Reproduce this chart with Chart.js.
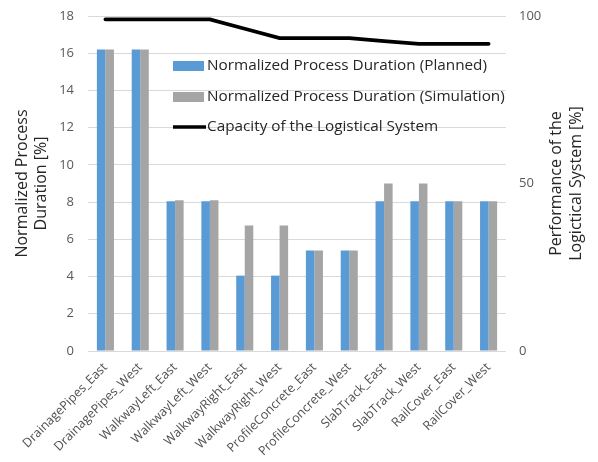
<!DOCTYPE html>
<html><head><meta charset="utf-8">
<script src="https://cdn.jsdelivr.net/npm/chart.js@4"></script>
<style>html,body{margin:0;padding:0;background:#fff}#wrap{width:598px;height:462px}</style>
</head><body><div id="wrap"><canvas id="c" width="598" height="462"></canvas></div>
<script>
const categories = ["DrainagePipes_East","DrainagePipes_West","WalkwayLeft_East","WalkwayLeft_West","WalkwayRight_East","WalkwayRight_West","ProfileConcrete_East","ProfileConcrete_West","SlabTrack_East","SlabTrack_West","RailCover_East","RailCover_West"];
const planned = [16.2,16.2,8.05,8.05,4.05,4.05,5.4,5.4,8.05,8.05,8.05,8.05];
const simulation = [16.2,16.2,8.1,8.1,6.75,6.75,5.4,5.4,9.0,9.0,8.05,8.05];
const capacity = [99,99,99,99,96.2,93.4,93.4,93.4,92.5,91.7,91.7,91.7];
const leftTicks = [0,2,4,6,8,10,12,14,16,18];
const rightTicks = [0,50,100];
const seriesNames = ["Normalized Process Duration (Planned)","Normalized Process Duration (Simulation)","Capacity of the Logistical System"];
const leftTitle = ["Normalized Process","Duration [%]"];
const rightTitle = ["Performance of the","Logictical System [%]"];

const FONT = "'Open Sans', sans-serif";
const overlay = {
  id:'overlay',
  afterDraw(chart){
    const ctx = chart.ctx;
    const area = chart.chartArea;
    ctx.save();
    const lx = 173, ys = [66, 97, 127];
    ctx.font = "15.3px " + FONT;
    ctx.textBaseline = "middle";
    ctx.textAlign = "left";
    chart.data.datasets.forEach((ds,i)=>{
      const y = ys[i];
      if (ds.type === 'line') {
        ctx.strokeStyle = ds.borderColor; ctx.lineWidth = 3.5;
        ctx.beginPath(); ctx.moveTo(lx, y); ctx.lineTo(lx+33, y); ctx.stroke();
      } else {
        ctx.fillStyle = ds.backgroundColor; ctx.fillRect(lx, y-5, 31, 10);
      }
      ctx.fillStyle = "#262626";
      ctx.fillText(ds.label, lx+34, y);
    });
    ctx.font = "16px " + FONT;
    ctx.fillStyle = "#262626";
    ctx.textAlign = "center";
    const cy = (area.top + area.bottom)/2;
    ctx.save();
    ctx.translate(22, cy); ctx.rotate(-Math.PI/2);
    ctx.fillText(leftTitle[0], 0, 0); ctx.fillText(leftTitle[1], 0, 19);
    ctx.restore();
    ctx.save();
    ctx.translate(556, cy); ctx.rotate(-Math.PI/2);
    ctx.fillText(rightTitle[0], 0, 0); ctx.fillText(rightTitle[1], 0, 20);
    ctx.restore();
    ctx.restore();
  }
};

new Chart(document.getElementById('c'), {
  data: {
    labels: categories,
    datasets: [
      {type:'bar', label:seriesNames[0], data:planned, backgroundColor:'#5B9BD5', yAxisID:'y', order:2, barPercentage:1, categoryPercentage:0.49},
      {type:'bar', label:seriesNames[1], data:simulation, backgroundColor:'#A5A5A5', yAxisID:'y', order:2, barPercentage:1, categoryPercentage:0.49},
      {type:'line', label:seriesNames[2], data:capacity, borderColor:'#000000', borderWidth:3.8, pointRadius:0, tension:0, yAxisID:'y1', order:1, borderCapStyle:'round'}
    ]
  },
  options: {
    responsive:false, animation:false, devicePixelRatio:1,
    layout:{padding:{top:16, left:0, right:0, bottom:0}},
    plugins:{legend:{display:false}, tooltip:{enabled:false}},
    scales:{
      x:{
        grid:{display:false, drawTicks:false},
        border:{display:false},
        ticks:{color:'#505050', font:{family:FONT, size:12.5}, maxRotation:45, minRotation:45, padding:9, autoSkip:false},
        afterFit(s){ s.height = 111; s.paddingLeft = 0; s.paddingRight = 0; }
      },
      y:{
        position:'left', min:0, max:18,
        afterBuildTicks(s){ s.ticks = leftTicks.map(v=>({value:v})); },
        grid:{color:'#d9d9d9', lineWidth:1, drawTicks:false},
        border:{display:false},
        ticks:{color:'#595959', font:{family:FONT, size:13}, padding:14},
        afterFit(s){ s.width = 88; s.paddingTop = 0; s.paddingBottom = 0; }
      },
      y1:{
        position:'right', min:0, max:100,
        afterBuildTicks(s){ s.ticks = rightTicks.map(v=>({value:v})); },
        grid:{display:false, drawTicks:false},
        border:{display:false},
        ticks:{color:'#595959', font:{family:FONT, size:13}, padding:13},
        afterFit(s){ s.width = 92; s.paddingTop = 0; s.paddingBottom = 0; }
      }
    }
  },
  plugins:[overlay]
});
</script></body></html>
